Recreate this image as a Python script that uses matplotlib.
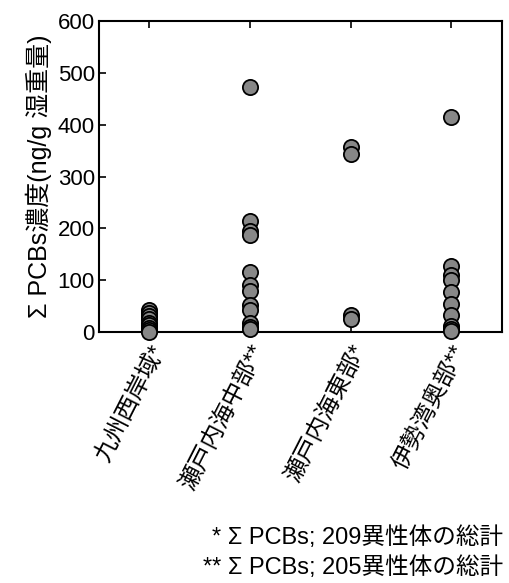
import matplotlib
matplotlib.use("Agg")
import matplotlib.pyplot as plt

plt.rcParams['font.family'] = ['Liberation Sans', 'Noto Sans CJK JP', 'DejaVu Sans']

# sampling areas and ΣPCBs concentrations (ng/g wet weight)
areas = ["九州西岸域*", "瀬戸内海中部**", "瀬戸内海東部*", "伊勢湾奥部**"]
kyushu_west = [42, 36, 30, 25, 18, 14, 8, 4, 1]
seto_central = [473, 214, 195, 188, 115, 90, 80, 52, 42, 18, 10, 5]
seto_east = [356, 343, 33, 25]
ise_bay = [415, 127, 110, 100, 78, 55, 33, 12, 5, 2]
footnotes = ["* Σ PCBs; 209異性体の総計", "** Σ PCBs; 205異性体の総計"]

groups = [kyushu_west, seto_central, seto_east, ise_bay]

fig = plt.figure(figsize=(5.1, 5.83), dpi=100)
ax = fig.add_axes([0.194, 0.4305, 0.790, 0.5335])

for i, vals in enumerate(groups):
    ax.scatter([i] * len(vals), vals, s=120, c="#878787", edgecolors="black",
               linewidths=1.3, zorder=3, clip_on=False)

ax.set_xlim(-0.5, 3.5)
ax.set_ylim(0, 600)
ax.set_yticks(range(0, 601, 100))
ax.set_xticks(range(len(areas)))
ax.set_xticklabels(areas, rotation=63, ha="right", rotation_mode="anchor", fontsize=17)
ax.tick_params(axis="x", direction="in", top=True, bottom=True, length=5, width=1.2, pad=7)
ax.tick_params(axis="y", direction="in", left=True, right=False, length=5, width=1.2,
               labelsize=16, pad=3)
for sp in ax.spines.values():
    sp.set_linewidth(1.5)

ax.set_ylabel("Σ PCBs濃度(ng/g 湿重量)", fontsize=18, labelpad=4)

fig.text(0.986, 0.077, footnotes[0], ha="right", va="center", fontsize=17)
fig.text(0.986, 0.027, footnotes[1], ha="right", va="center", fontsize=17)

fig.savefig("out.png", dpi=100)
